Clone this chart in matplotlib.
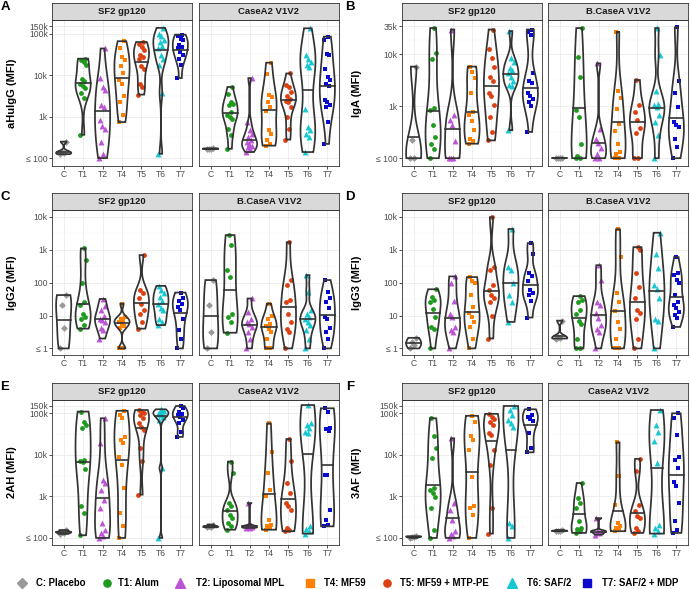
import numpy as np
import matplotlib.pyplot as plt
from matplotlib.lines import Line2D
from matplotlib.ticker import FixedLocator, NullFormatter

plt.rcParams['font.family'] = ['Liberation Sans', 'DejaVu Sans']

W, H = 690, 589

groups = ['C', 'T1', 'T2', 'T4', 'T5', 'T6', 'T7']
legend_labels = ['C: Placebo', 'T1: Alum', 'T2: Liposomal MPL', 'T4: MF59',
                 'T5: MF59 + MTP-PE', 'T6: SAF/2', 'T7: SAF/2 + MDP']
colors = ['#999999', '#1E9B1E', '#BB55D6', '#FF8000', '#DD4010', '#16C8D2', '#0A0ACF']
markers = ['D', 'o', '^', 's', 'o', '^', 's']

# --- данные (MFI), по группам C, T1, T2, T4, T5, T6, T7 ---
A_SF2 = [
    [125, 135, 140, 250],
    [365, 2800, 3800, 4900, 5500, 6200, 7200, 8200, 18000, 21000, 23000, 25000],
    [100, 127, 244, 510, 610, 810, 1700, 1900, 4500, 5200, 8500, 44000],
    [740, 1100, 2200, 3200, 6200, 7500, 11000, 17000, 23000, 27000, 44000, 66000],
    [3400, 5200, 6200, 14000, 17000, 25000, 27000, 31000, 40000, 48000, 55000, 63000],
    [127, 3800, 18000, 24000, 30000, 44000, 50000, 63000, 69000, 88000, 100000, 138000],
    [8500, 18000, 25000, 30000, 36000, 44000, 48000, 52000, 69000, 76000, 88000, 95000],
]
A_CASEA2 = [
    [165, 168, 170, 172],
    [168, 365, 510, 890, 980, 1100, 1300, 1900, 2000, 2200, 3500, 5200],
    [140, 168, 185, 200, 220, 244, 267, 320, 390, 465, 740, 8500],
    [200, 220, 267, 390, 465, 1400, 1700, 2200, 3000, 3400, 10600, 20000],
    [280, 510, 1000, 1700, 2200, 2400, 2600, 3200, 3900, 5200, 5900, 11000],
    [140, 320, 390, 465, 560, 1550, 16000, 18000, 21000, 25000, 30000, 135000],
    [220, 740, 1700, 1900, 2200, 2500, 5600, 6200, 7500, 9000, 14000, 30000, 32000, 69000, 85000],
]
B_SF2 = [
    [100, 100, 220, 5800],
    [100, 150, 190, 255, 440, 860, 930, 8100, 10500, 32000],
    [100, 100, 100, 210, 430, 535, 670, 30000],
    [190, 210, 235, 345, 510, 670, 770, 1800, 3500, 4600, 5800],
    [220, 320, 620, 1050, 1600, 1800, 3000, 3700, 5800, 8300, 12600, 30000],
    [345, 2400, 2600, 3000, 3700, 4300, 5000, 5400, 7200, 8300, 28000],
    [320, 1000, 1200, 1400, 1550, 1800, 2800, 3000, 4300, 23000, 27000, 30000],
]
B_BCASEA = [
    [100, 100, 100, 100],
    [100, 100, 112, 190, 620, 860, 3700, 8700, 32000],
    [100, 100, 120, 160, 200, 235, 370, 6700],
    [100, 100, 120, 130, 190, 330, 460, 870, 1450, 1950, 27000],
    [100, 100, 310, 380, 535, 780, 1080, 3200],
    [100, 275, 500, 670, 980, 1050, 1100, 2000, 9700, 32000],
    [100, 165, 235, 400, 430, 500, 980, 1800, 3000, 33000],
]
C_SF2 = [
    [1, 4.2, 21, 42],
    [4, 5.1, 8.1, 9.1, 11.5, 21, 26, 100, 480, 1100],
    [2, 3.6, 4.2, 6.5, 7.2, 8.1, 10, 14.6, 20, 32],
    [1, 1, 4.2, 4.8, 5.7, 6.5, 6.8, 7.8, 9.1, 23],
    [4, 6.5, 11.5, 14.6, 23, 33, 47, 59, 690],
    [5.1, 6.5, 8.1, 14.6, 17, 23, 27, 37, 47, 59, 80],
    [1, 2, 3.6, 7.8, 14.6, 18.5, 23, 27, 33, 50],
]
C_BCASEA = [
    [1, 3.2, 21, 120],
    [3, 6.5, 9.2, 10.8, 150, 240, 1400, 2800],
    [1, 2, 3.2, 4.5, 5.4, 6.5, 8.1, 13, 33],
    [1, 1, 2, 3.2, 4, 4.9, 5.7, 8.1, 9.8, 23],
    [1, 3.2, 4, 6.5, 11.5, 26, 29, 84, 120, 1700],
    [1, 2, 3.6, 5.1, 6.5, 7.8, 9.1, 11.5, 14.6, 52, 170],
    [1, 2, 3.2, 4.2, 8.1, 9.1, 16.4, 26, 33, 52, 120],
]
D_SF2 = [
    [1, 1.3, 1.6, 2.1],
    [1, 4, 4.5, 9.1, 16, 25, 29, 37, 63],
    [1, 3.2, 3.6, 4.5, 9.1, 11.5, 27, 100, 155],
    [1, 2, 4.5, 6.5, 9.1, 12.3, 18, 42, 100, 110, 148],
    [2, 9.8, 26, 33, 42, 59, 83, 250, 300, 9800],
    [6.4, 26, 42, 100, 250, 310, 4300],
    [8.7, 27, 42, 50, 59, 110, 160, 190, 760, 1600],
]
D_BCASEA = [
    [2, 2.1, 2.2, 7],
    [1, 1, 2, 5.7, 6.7, 11.5, 14.6, 26, 29, 39],
    [1, 3.2, 4, 5.1, 8.5, 12, 21, 26, 117, 340],
    [1, 1, 2, 4, 6.5, 14, 26, 50, 600, 4200],
    [1, 2, 7.6, 12.3, 14.6, 35, 74, 196, 1000, 1200],
    [1, 6.7, 8.1, 33, 63, 83, 275, 760, 3300],
    [4.5, 8.5, 10.7, 13, 16.4, 21, 26, 42, 100, 117, 175, 190, 600],
]
E_SF2 = [
    [125, 135, 140, 155],
    [116, 400, 575, 4500, 6900, 7000, 7600, 44000, 52000, 63000, 110000],
    [100, 110, 132, 158, 230, 525, 830, 1450, 2100, 2500, 19000, 76000],
    [100, 190, 400, 1600, 5800, 9100, 19000, 23000, 27000, 76000, 91000, 115000],
    [1100, 7000, 14500, 40000, 48000, 57000, 76000, 91000, 100000, 110000, 120000],
    [100, 4800, 69000, 83000, 91000, 97000, 100000, 110000, 115000, 125000],
    [27000, 36000, 57000, 69000, 83000, 91000, 97000, 110000, 132000, 150000],
]
E_CASEA2 = [
    [180, 185, 190, 210],
    [158, 190, 230, 300, 363, 480, 575, 690, 3600, 6900],
    [174, 178, 180, 185, 190, 195, 200, 690],
    [158, 175, 190, 200, 275, 1000, 1450, 3600, 11500, 57000],
    [145, 158, 174, 480, 575, 690, 1200, 2100, 7200, 24000],
    [127, 145, 165, 190, 33000, 36000, 44000, 52000, 57000, 158000],
    [190, 210, 275, 480, 3200, 3300, 38000, 41000, 44000, 110000, 132000],
]
F_SF2 = [
    [100, 105, 108, 110],
    [100, 158, 525, 960, 1200, 1400, 1600, 8300, 14500, 29000, 76000],
    [100, 113, 127, 145, 275, 480, 690, 25000],
    [100, 363, 525, 575, 3000, 13000, 23000, 29000, 63000, 87000],
    [127, 525, 5800, 13000, 30000, 33000, 52000, 63000, 72000, 83000, 97000],
    [100, 190, 230, 48000, 57000, 69000, 91000, 120000, 150000],
    [11500, 14500, 33000, 66000, 72000, 80000, 91000, 125000],
]
F_CASEA2 = [
    [145, 148, 150, 155],
    [132, 145, 165, 174, 260, 525, 690, 910, 2100],
    [120, 130, 140, 145, 150, 300],
    [145, 158, 174, 190, 230, 630, 3100, 20000],
    [132, 145, 174, 300, 330, 437, 630, 4000, 8000],
    [127, 145, 174, 210, 6300, 21000, 36000, 52000, 120000],
    [132, 158, 250, 690, 1740, 2200, 4800, 7600, 9100, 30000, 76000, 100000],
]

big_ticks = [100, 1e3, 1e4, 1e5, 1.5e5]
big_labels = ['≤ 100', '1k', '10k', '100k', '150k']
iga_ticks = [100, 1e3, 1e4, 3.5e4]
iga_labels = ['≤ 100', '1k', '10k', '35k']
small_ticks = [1, 10, 100, 1e3, 1e4]
small_labels = ['≤ 1', '10', '100', '1k', '10k']

# (буква, подпись оси, колонка, ряд, фасеты, данные, пределы log10, тики, подписи)
panels = [
    ('A', 'aHuIgG (MFI)', 0, 0, ['SF2 gp120', 'CaseA2 V1V2'], [A_SF2, A_CASEA2], (1.81, 5.33), big_ticks, big_labels),
    ('B', 'IgA (MFI)', 1, 0, ['SF2 gp120', 'B.CaseA V1V2'], [B_SF2, B_BCASEA], (1.85, 4.66), iga_ticks, iga_labels),
    ('C', 'IgG2 (MFI)', 0, 1, ['SF2 gp120', 'B.CaseA V1V2'], [C_SF2, C_BCASEA], (-0.2, 4.21), small_ticks, small_labels),
    ('D', 'IgG3 (MFI)', 1, 1, ['SF2 gp120', 'B.CaseA V1V2'], [D_SF2, D_BCASEA], (-0.2, 4.21), small_ticks, small_labels),
    ('E', '2AH (MFI)', 0, 2, ['SF2 gp120', 'CaseA2 V1V2'], [E_SF2, E_CASEA2], (1.83, 5.32), big_ticks, big_labels),
    ('F', '3AF (MFI)', 1, 2, ['SF2 gp120', 'CaseA2 V1V2'], [F_SF2, F_CASEA2], (1.83, 5.32), big_ticks, big_labels),
]

col_x0 = [0, 345]
facet_x = [[52, 199], [402, 548]]
facet_w = 140
strip_top = [3, 193, 383]
strip_h = 17
plot_h = [146, 145, 145]
letter_y = [7, 197, 387]
line_col = '#333333'


def box(x, y, w, h):
    return [x / W, 1 - (y + h) / H, w / W, h / H]


def violin(ax, pos, vals, half=0.39):
    y = np.log10(np.asarray(vals, float))
    n = len(y)
    sd = y.std(ddof=1)
    iqr = np.subtract(*np.percentile(y, [75, 25]))
    lo = min(sd, iqr / 1.34)
    if lo == 0:
        lo = sd or abs(y[0]) or 1
    bw = 0.9 * lo * n ** -0.2
    g = np.linspace(y.min(), y.max(), 300)
    d = np.exp(-0.5 * ((g[:, None] - y[None, :]) / bw) ** 2).sum(1)
    w = d / d.max() * half
    xs = np.concatenate([pos - w, (pos + w)[::-1]])
    ys = np.concatenate([g, g[::-1]])
    ax.fill(xs, 10 ** ys, fc='none', ec=line_col, lw=1.25, zorder=4)
    cdf = np.cumsum(d)
    cdf = cdf / cdf[-1]
    q = np.interp(0.5, cdf, g)
    wq = np.interp(q, g, w)
    ax.plot([pos - wq, pos + wq], [10 ** q] * 2, color=line_col, lw=1.2, zorder=4)


def jitter(n):
    return ((np.arange(n) * 0.61803) % 1 - 0.5) * 0.34


fig = plt.figure(figsize=(W / 100, H / 100), dpi=100)

for letter, ylab, col, row, facets, datasets, (ylo, yhi), ticks, tlabels in panels:
    top = strip_top[row] + strip_h
    ph = plot_h[row]
    lt = np.log10(ticks)
    minors = 10 ** ((lt[:-1] + lt[1:]) / 2)
    for k, (fname, data) in enumerate(zip(facets, datasets)):
        x0 = facet_x[col][k]
        ax = fig.add_axes(box(x0, top, facet_w, ph))
        ax.set_yscale('log')
        for i, vals in enumerate(data):
            jx = i + jitter(len(vals))
            ax.scatter(jx, vals, s=18 if markers[i] == '^' else 12, marker=markers[i],
                       color=colors[i], linewidths=0, zorder=3)
            violin(ax, i, vals)
        ax.set_xlim(-0.6, 6.6)
        ax.set_ylim(10 ** ylo, 10 ** yhi)
        ax.set_xticks(range(len(groups)))
        ax.set_xticklabels(groups)
        ax.yaxis.set_major_locator(FixedLocator(ticks))
        ax.yaxis.set_minor_locator(FixedLocator(minors))
        ax.yaxis.set_minor_formatter(NullFormatter())
        ax.set_yticklabels(tlabels)
        ax.grid(which='major', color='#EBEBEB', lw=0.6)
        ax.grid(which='minor', axis='y', color='#F3F3F3', lw=0.35)
        ax.set_axisbelow(True)
        ax.tick_params(which='major', length=2.2, width=0.6, color=line_col,
                       labelsize=6.2, labelcolor='#4D4D4D', pad=0.8)
        ax.tick_params(which='minor', length=0)
        if k == 1:
            ax.tick_params(axis='y', which='both', left=False, labelleft=False)
        for s in ax.spines.values():
            s.set_color(line_col)
            s.set_linewidth(0.6)
        # заголовок фасета
        sax = fig.add_axes(box(x0, strip_top[row], facet_w, strip_h))
        sax.set_facecolor('#D9D9D9')
        sax.set_xticks([])
        sax.set_yticks([])
        for s in sax.spines.values():
            s.set_color(line_col)
            s.set_linewidth(0.6)
        sax.text(0.5, 0.5, fname, ha='center', va='center', fontsize=6.8,
                 fontweight='bold', color='#1A1A1A', transform=sax.transAxes)
    fig.text((col_x0[col] + 12) / W, 1 - (top + ph / 2) / H, ylab, rotation=90,
             ha='center', va='center', fontsize=8, fontweight='bold')
    fig.text((col_x0[col] + 5) / W, 1 - letter_y[row] / H, letter, ha='center',
             va='center', fontsize=9.5, fontweight='bold')

# легенда
leg_marker_x = [22, 107, 180, 310, 387, 512, 587]
leg_text_x = [36, 118, 196, 324, 400, 527, 602]
leg_y = 1 - 583 / H
for i, lab in enumerate(legend_labels):
    fig.add_artist(Line2D([leg_marker_x[i] / W], [leg_y], transform=fig.transFigure,
                          marker=markers[i], ls='none', color=colors[i],
                          ms=7 if markers[i] == '^' else 5.2))
    fig.text(leg_text_x[i] / W, leg_y, lab, ha='left', va='center', fontsize=6.9,
             fontweight='bold')

fig.savefig('out.png', dpi=100)
